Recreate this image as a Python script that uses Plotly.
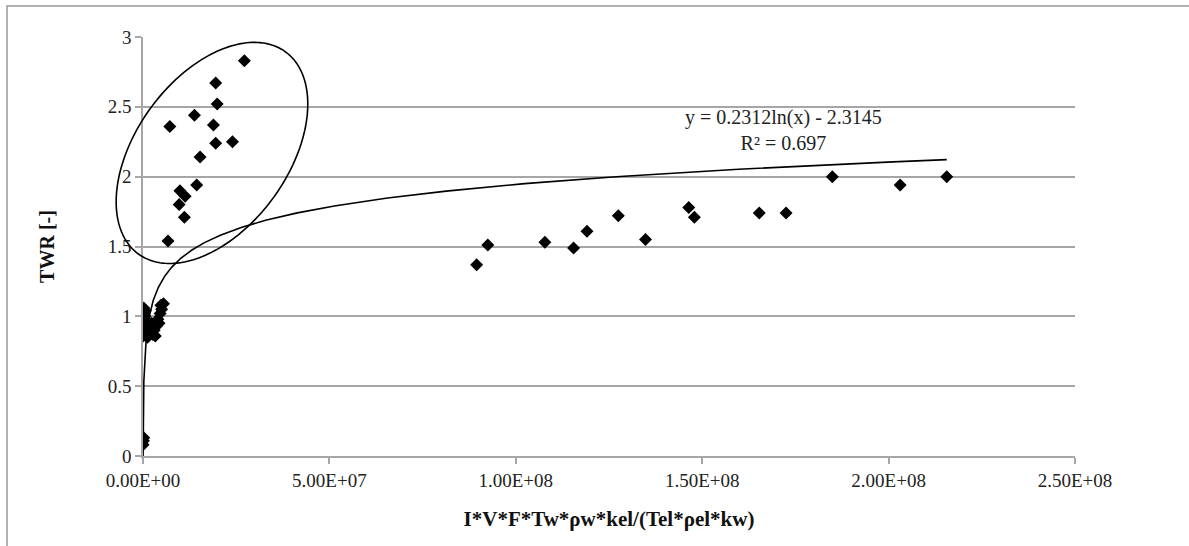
import numpy as np
import plotly.graph_objects as go

# ---------------- data ----------------
x_low = [2.2e4, 1.0e5, 2.0e5]
y_low = [0.08, 0.11, 0.13]

x_one = [0.05e6, 0.1e6, 0.15e6, 0.2e6, 0.3e6, 0.4e6, 0.5e6, 0.6e6, 0.8e6, 1.0e6, 1.2e6,
         1.5e6, 2.0e6, 2.3e6, 2.6e6, 3.0e6, 3.3e6, 3.6e6, 4.0e6, 4.3e6, 4.6e6, 4.8e6,
         5.0e6, 5.5e6]
y_one = [0.86, 0.92, 1.02, 1.06, 0.95, 0.88, 1.00, 1.04, 0.90, 0.97, 0.85,
         0.93, 0.88, 0.95, 0.87, 0.90, 0.86, 0.93, 0.98, 0.95, 1.02, 1.08,
         1.05, 1.09]

x_circ = [2.72e7, 1.95e7, 1.99e7, 1.38e7, 7.2e6, 1.89e7, 1.95e7, 2.40e7, 1.53e7,
          1.44e7, 9.9e6, 1.13e7, 9.7e6, 1.11e7, 6.7e6]
y_circ = [2.83, 2.67, 2.52, 2.44, 2.36, 2.37, 2.24, 2.25, 2.14,
          1.94, 1.90, 1.86, 1.80, 1.71, 1.54]

x_right = [8.95e7, 9.25e7, 1.078e8, 1.155e8, 1.191e8, 1.275e8, 1.348e8, 1.464e8,
           1.479e8, 1.653e8, 1.725e8, 1.849e8, 2.031e8, 2.156e8]
y_right = [1.37, 1.51, 1.53, 1.49, 1.61, 1.72, 1.55, 1.78,
           1.71, 1.74, 1.74, 2.00, 1.94, 2.00]

# trend-line coefficients as printed on the chart
trend_a = 0.2312
trend_b = -2.3145
equation_text = "y = 0.2312ln(x) - 2.3145<br>R² = 0.697"

x_tickvals = [0, 5e7, 1e8, 1.5e8, 2e8, 2.5e8]
x_ticktext = ["0.00E+00", "5.00E+07", "1.00E+08", "1.50E+08", "2.00E+08", "2.50E+08"]
y_tickvals = [0, 0.5, 1, 1.5, 2, 2.5, 3]
y_ticktext = ["0", "0.5", "1", "1.5", "2", "2.5", "3"]

x_title = "<b>I*V*F*Tw*ρw*kel/(Tel*ρel*kw)</b>"
y_title = "<b>TWR [-]</b>"

# ---------------- layout geometry ----------------
W, H = 1189, 546
ML, MR, MT, MB = 143, 114, 37, 90
XR = [0, 2.5e8]
YR = [0, 3]
PW, PH = W - ML - MR, H - MT - MB
kx = PW / (XR[1] - XR[0])   # px per x unit
ky = PH / (YR[1] - YR[0])   # px per y unit

FONT = "Liberation Serif, Times New Roman, DejaVu Serif, serif"
GRID = "#a6a6a6"

xs = np.concatenate([x_low, x_one, x_circ, x_right])
ys = np.concatenate([y_low, y_one, y_circ, y_right])

fig = go.Figure()

# trend line
tx = np.geomspace(xs.min(), xs.max(), 600)
ty = trend_a * np.log(tx) + trend_b
fig.add_trace(go.Scatter(x=tx, y=ty, mode="lines",
                         line=dict(color="black", width=1.6),
                         hoverinfo="skip", showlegend=False))

fig.add_trace(go.Scatter(x=xs, y=ys, mode="markers",
                         marker=dict(symbol="diamond", size=10, color="black"),
                         showlegend=False))

# ellipse around the upper cluster (pixel radii, drawn in paper coords so it is not clipped)
e_cx, e_cy = 1.85e7, 2.17
e_a, e_b, e_ang = 125, 76, np.deg2rad(54)
t = np.linspace(0, 2 * np.pi, 200)
dx = e_a * np.cos(t) * np.cos(e_ang) - e_b * np.sin(t) * np.sin(e_ang)
dy = e_a * np.cos(t) * np.sin(e_ang) + e_b * np.sin(t) * np.cos(e_ang)
ex = (e_cx - XR[0]) / (XR[1] - XR[0]) + dx / PW
ey = (e_cy - YR[0]) / (YR[1] - YR[0]) + dy / PH
path = "M " + " L ".join(f"{a:.5f},{b:.5f}" for a, b in zip(ex, ey)) + " Z"
fig.add_shape(type="path", path=path, xref="paper", yref="paper",
              line=dict(color="black", width=1.6), layer="above")

# outer chart border
fig.add_shape(type="rect", xref="paper", yref="paper",
              x0=(7 - ML) / PW, x1=(W + 10 - ML) / PW,
              y0=-(MB + 10) / PH, y1=(H - MB - 6) / PH,
              line=dict(color="#9a9a9a", width=1.5), layer="below")

# equation annotation
fig.add_annotation(x=(783 - ML) / kx, y=(H - MB - 130) / ky, xref="x", yref="y",
                   text=equation_text, showarrow=False,
                   font=dict(family=FONT, size=20, color="#222"), align="center")

fig.update_layout(
    width=W, height=H,
    margin=dict(l=ML, r=MR, t=MT, b=MB),
    paper_bgcolor="white", plot_bgcolor="white",
    font=dict(family=FONT, size=19, color="#222"),
    showlegend=False,
)
fig.update_xaxes(range=XR, tickvals=x_tickvals, ticktext=x_ticktext,
                 showgrid=False, zeroline=False,
                 showline=True, linecolor=GRID, linewidth=1.5,
                 ticks="outside", ticklen=6, tickcolor=GRID, tickwidth=1.5,
                 tickfont=dict(family=FONT, size=19, color="#222"),
                 title=dict(text=x_title, font=dict(family=FONT, size=21, color="#111"),
                            standoff=22))
fig.update_yaxes(range=YR, tickvals=y_tickvals, ticktext=y_ticktext,
                 showgrid=True, gridcolor=GRID, gridwidth=1.5, zeroline=False,
                 showline=True, linecolor=GRID, linewidth=1.5,
                 ticks="outside", ticklen=6, tickcolor=GRID, tickwidth=1.5,
                 tickfont=dict(family=FONT, size=19, color="#222"),
                 title=dict(text=y_title, font=dict(family=FONT, size=20, color="#111"),
                            standoff=48))

fig.write_html("out.html")
